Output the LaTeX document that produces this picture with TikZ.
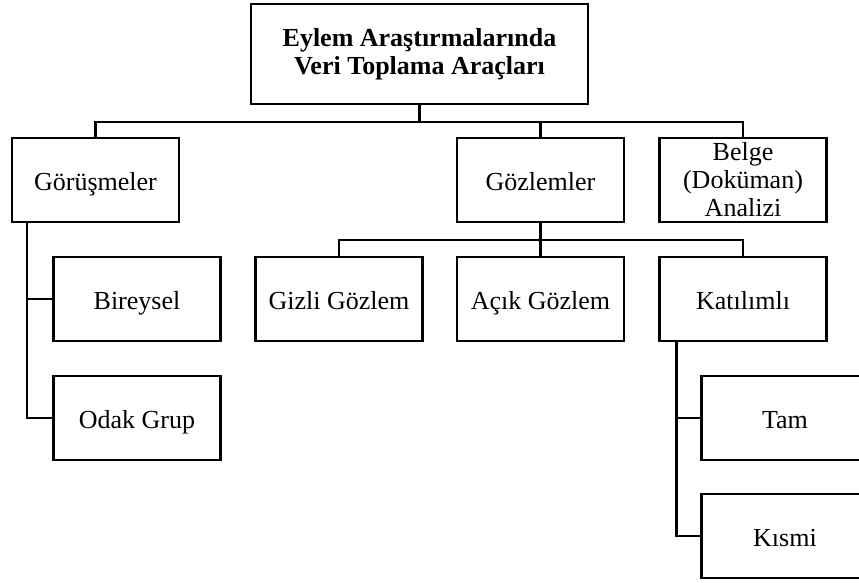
\documentclass[tikz,border=0pt]{standalone}
\usepackage{fontspec}
\setmainfont{Liberation Serif}
\begin{document}
\begin{tikzpicture}[x=1pt, y=-1pt, line width=2.2pt,
    box/.style={draw, align=center, inner sep=0pt, minimum width=167pt, minimum height=84pt, font=\fontsize{26}{28}\selectfont},
    onebox/.style={box, text height=26pt, text depth=6pt},
    topbox/.style={box, minimum width=337pt, minimum height=100pt, font=\fontsize{26}{28}\selectfont\bfseries}]
    \useasboundingbox (0, 0) rectangle (859, 583);

    \node[topbox] (top) at (419.5, 54) {Eylem Araştırmalarında\\Veri Toplama Araçları};

    \node[onebox] (gor) at (95.5, 180) {Görüşmeler};
    \node[onebox] (goz) at (540.5, 180) {Gözlemler};
    \node[box] (belge) at (743, 180) {Belge\\(Doküman)\\Analizi};

    \node[onebox] (bir) at (137, 299) {Bireysel};
    \node[onebox] (odak) at (137, 418) {Odak Grup};

    \node[onebox] (gizli) at (339, 299) {Gizli Gözlem};
    \node[onebox] (acik) at (540.5, 299) {Açık Gözlem};
    \node[onebox] (kat) at (743, 299) {Katılımlı};

    \node[onebox] (tam) at (785, 418) {Tam};
    \node[onebox] (kismi) at (785, 536) {Kısmi};

    \draw (top.south) -- ++(0, 17) -| (gor.north);
    \draw (top.south) -- ++(0, 17) -| (goz.north);
    \draw (top.south) -- ++(0, 17) -| (belge.north);

    \draw (goz.south) -- ++(0, 17) -| (gizli.north);
    \draw (goz.south) -- ++(0, 17) -| (acik.north);
    \draw (goz.south) -- ++(0, 17) -| (kat.north);

    \draw ([xshift=16pt]gor.south west) |- (bir.west);
    \draw ([xshift=16pt]gor.south west) |- (odak.west);

    \draw ([xshift=18pt]kat.south west) |- (tam.west);
    \draw ([xshift=18pt]kat.south west) |- (kismi.west);

  \end{tikzpicture}
\end{document}
